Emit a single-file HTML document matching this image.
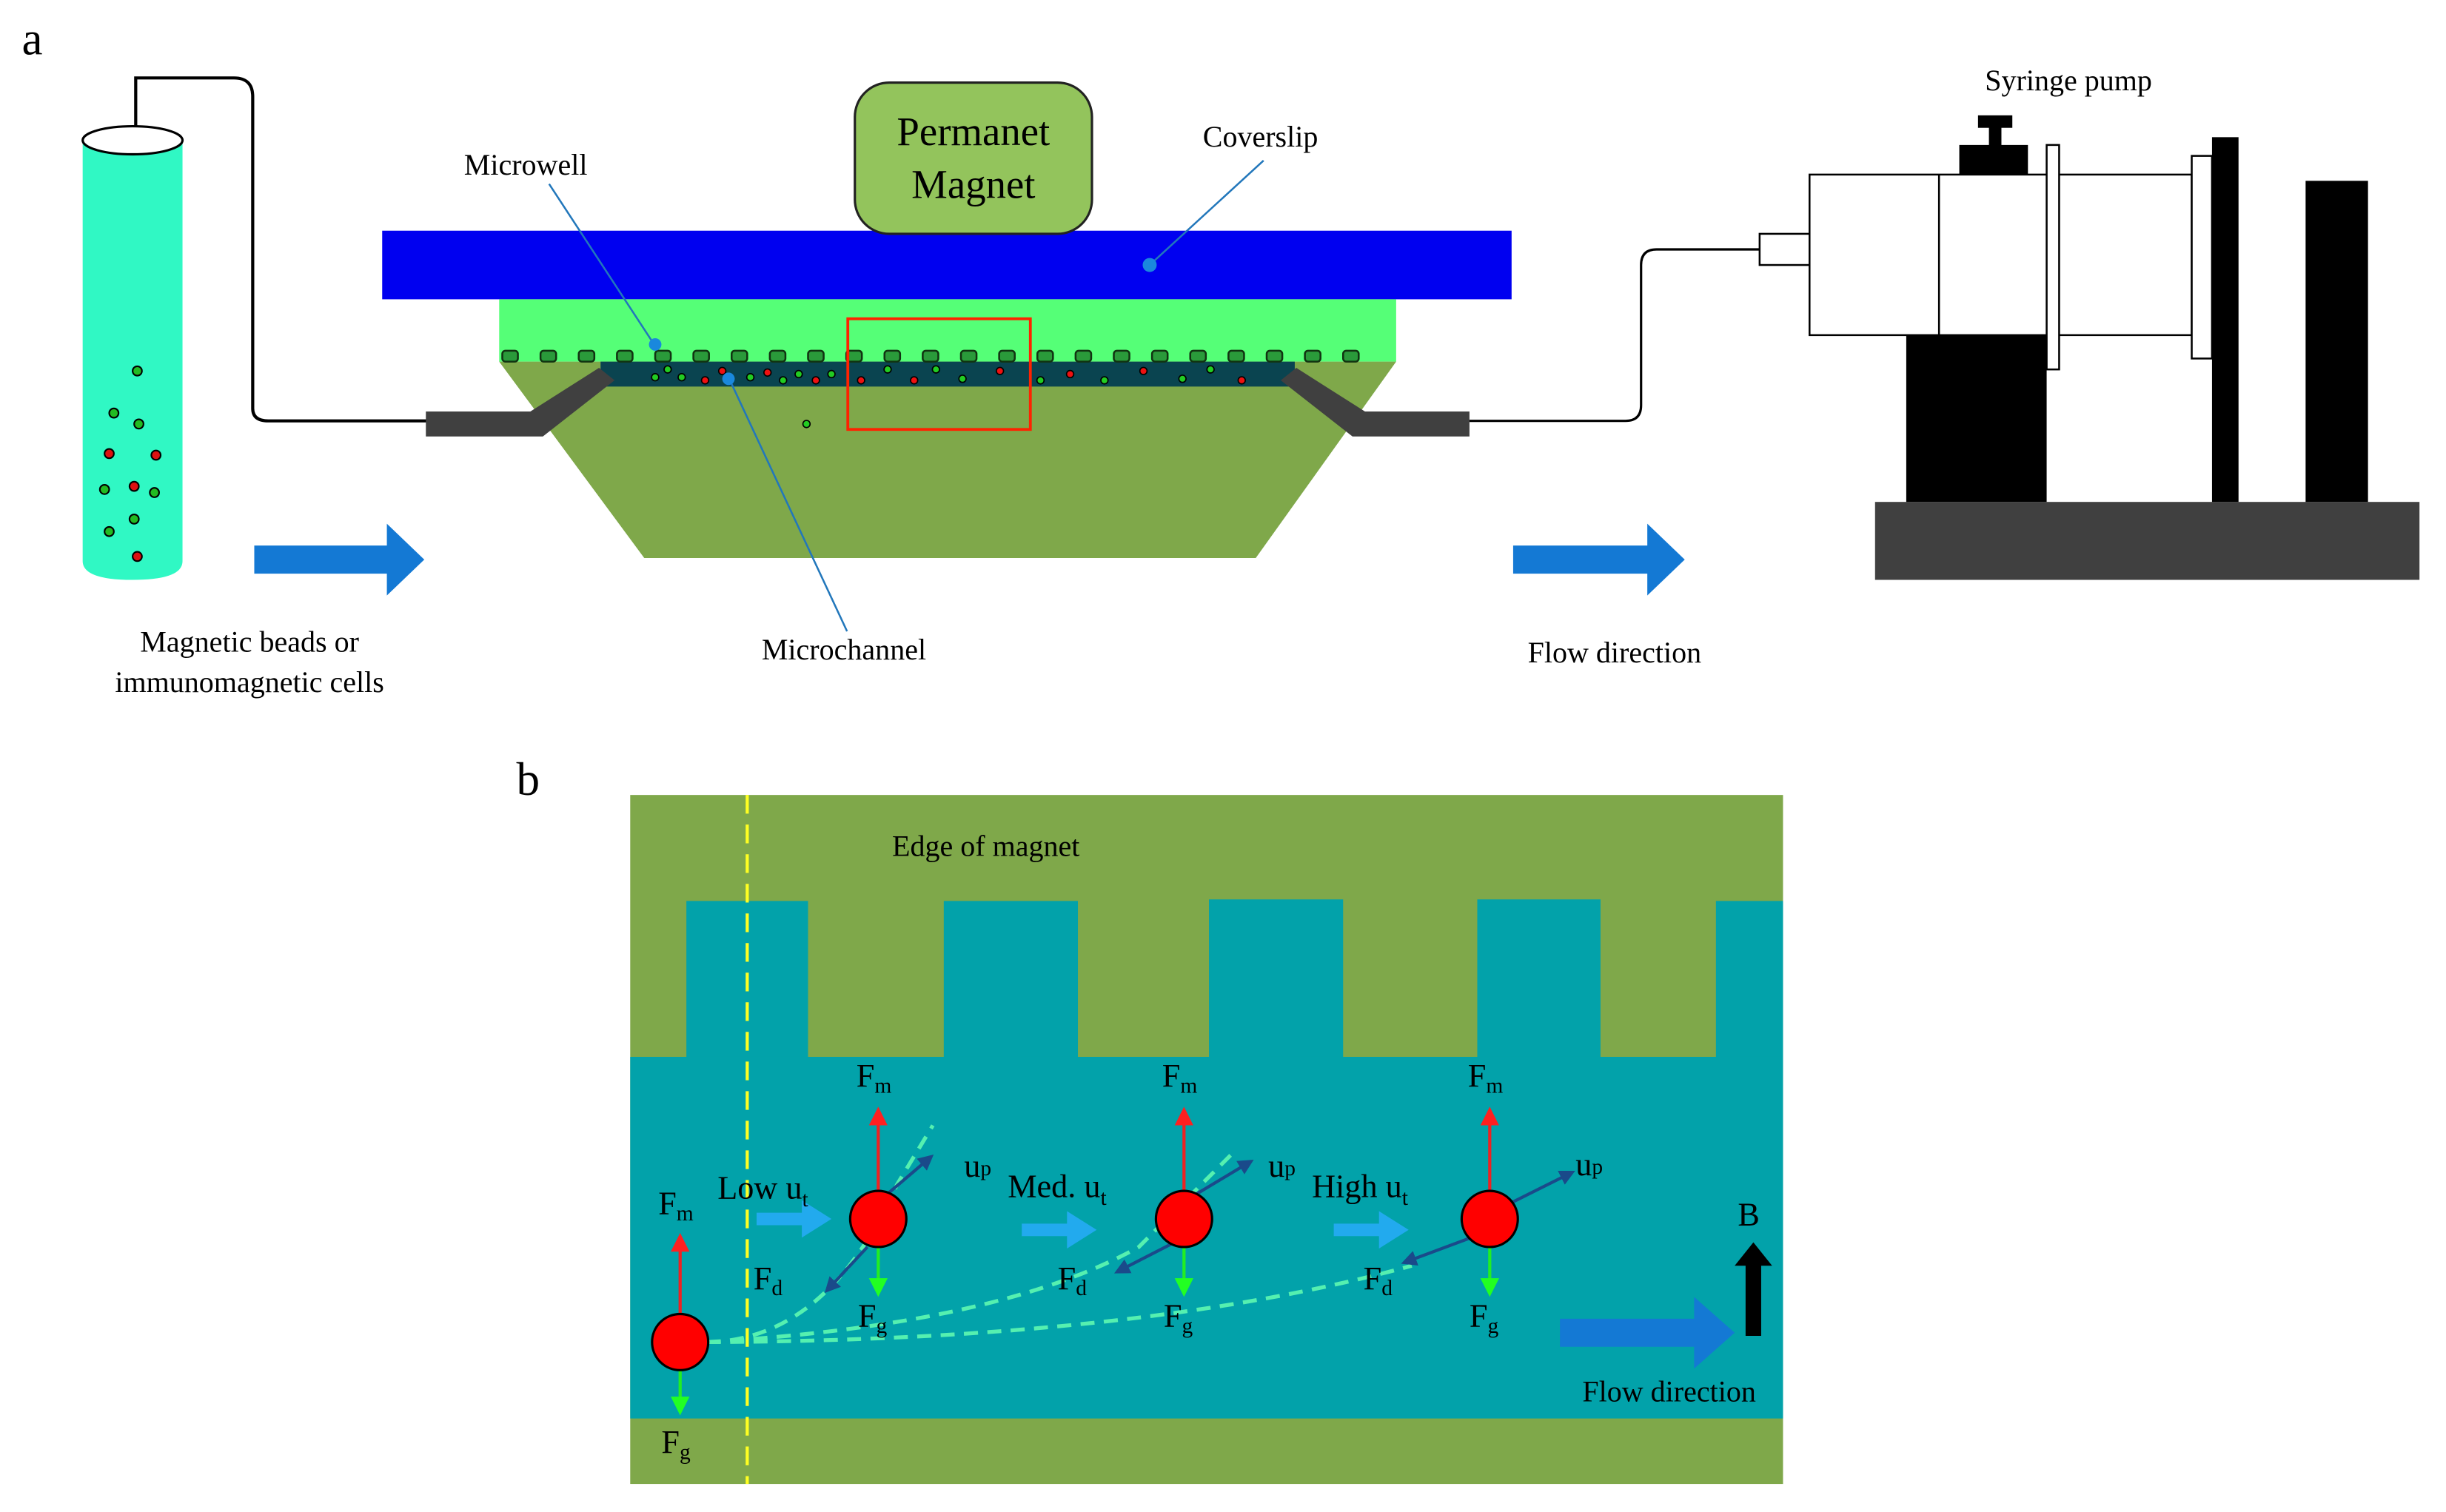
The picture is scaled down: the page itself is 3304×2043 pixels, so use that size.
<!DOCTYPE html>
<html><head><meta charset="utf-8"><style>html,body{margin:0;padding:0;background:#fff}svg{display:block}</style></head><body>
<svg width="3304" height="2043" viewBox="0 0 1568 970" preserveAspectRatio="none" xmlns="http://www.w3.org/2000/svg" font-family="Liberation Serif, serif">
<defs>
<marker id="ar" markerWidth="6" markerHeight="6" refX="5" refY="3" orient="auto" markerUnits="strokeWidth"><path d="M0,0 L6,3 L0,6z" fill="#ff2020"/></marker>
<marker id="ag" markerWidth="6" markerHeight="6" refX="5" refY="3" orient="auto" markerUnits="strokeWidth"><path d="M0,0 L6,3 L0,6z" fill="#22ff22"/></marker>
<marker id="ab" markerWidth="5" markerHeight="5" refX="4" refY="2.5" orient="auto" markerUnits="strokeWidth"><path d="M0,0 L5,2.5 L0,5z" fill="#1a4a8a"/></marker>
</defs>
<rect width="1568" height="970" fill="#fff"/>
<!-- Panel a -->
<text x="14" y="35" font-size="30">a</text>
<!-- tubing left -->
<path d="M87,98 V50 H150 Q162,50 162,62 V262 Q162,270 172,270 H276" fill="none" stroke="#000" stroke-width="2"/>
<!-- tube -->
<path d="M53,90 V360 Q53,372 85,372 Q117,372 117,360 V90 Z" fill="#30f8c4"/>
<ellipse cx="85" cy="90" rx="32" ry="9" fill="#fff" stroke="#000" stroke-width="1.5"/>
<g stroke="#000" stroke-width="1">
<circle cx="88" cy="238" r="3" fill="#22bb22"/><circle cx="73" cy="265" r="3" fill="#22bb22"/><circle cx="89" cy="272" r="3" fill="#22bb22"/>
<circle cx="70" cy="291" r="3" fill="#dd1111"/><circle cx="100" cy="292" r="3" fill="#dd1111"/><circle cx="67" cy="314" r="3" fill="#22bb22"/>
<circle cx="86" cy="312" r="3" fill="#dd1111"/><circle cx="99" cy="316" r="3" fill="#22bb22"/><circle cx="86" cy="333" r="3" fill="#22bb22"/>
<circle cx="70" cy="341" r="3" fill="#22bb22"/><circle cx="88" cy="357" r="3" fill="#dd1111"/>
</g>
<!-- coverslip -->
<rect x="245" y="148" width="724" height="44" fill="#0000f0"/>
<rect x="320" y="192" width="575" height="40" fill="#55ff77"/>
<polygon points="320,232 895,232 805,358 413,358" fill="#7fa84a"/>
<rect x="385" y="232" width="445" height="16" fill="#0a4450"/>
<!-- connectors -->
<polygon points="273,264 340,264 384,236 394,244 348,280 273,280" fill="#404040"/>
<polygon points="942,264 875,264 831,236 821,244 867,280 942,280" fill="#404040"/>
<path d="M942,270 H1042 Q1052,270 1052,260 V170 Q1052,160 1062,160 H1128" fill="none" stroke="#000" stroke-width="1.5"/>
<!-- microwells -->
<g fill="#2a9a3a" stroke="#113311" stroke-width="1.2">
<rect x="322" y="225" width="10" height="7" rx="2"/><rect x="346.5" y="225" width="10" height="7" rx="2"/><rect x="371" y="225" width="10" height="7" rx="2"/><rect x="395.5" y="225" width="10" height="7" rx="2"/><rect x="420" y="225" width="10" height="7" rx="2"/><rect x="444.5" y="225" width="10" height="7" rx="2"/><rect x="469" y="225" width="10" height="7" rx="2"/><rect x="493.5" y="225" width="10" height="7" rx="2"/><rect x="518" y="225" width="10" height="7" rx="2"/><rect x="542.5" y="225" width="10" height="7" rx="2"/><rect x="567" y="225" width="10" height="7" rx="2"/><rect x="591.5" y="225" width="10" height="7" rx="2"/><rect x="616" y="225" width="10" height="7" rx="2"/><rect x="640.5" y="225" width="10" height="7" rx="2"/><rect x="665" y="225" width="10" height="7" rx="2"/><rect x="689.5" y="225" width="10" height="7" rx="2"/><rect x="714" y="225" width="10" height="7" rx="2"/><rect x="738.5" y="225" width="10" height="7" rx="2"/><rect x="763" y="225" width="10" height="7" rx="2"/><rect x="787.5" y="225" width="10" height="7" rx="2"/><rect x="812" y="225" width="10" height="7" rx="2"/><rect x="836.5" y="225" width="10" height="7" rx="2"/><rect x="861" y="225" width="10" height="7" rx="2"/>
</g>
<g stroke="#000" stroke-width="0.8">
<circle cx="420" cy="242" r="2.3" fill="#2c2"/><circle cx="428" cy="237" r="2.3" fill="#2c2"/><circle cx="437" cy="242" r="2.3" fill="#2c2"/><circle cx="452" cy="244" r="2.3" fill="#e11"/><circle cx="463" cy="238" r="2.3" fill="#e11"/><circle cx="481" cy="242" r="2.3" fill="#2c2"/><circle cx="492" cy="239" r="2.3" fill="#e11"/><circle cx="502" cy="244" r="2.3" fill="#2c2"/><circle cx="512" cy="240" r="2.3" fill="#2c2"/><circle cx="523" cy="244" r="2.3" fill="#e11"/><circle cx="533" cy="240" r="2.3" fill="#2c2"/><circle cx="552" cy="244" r="2.3" fill="#e11"/><circle cx="569" cy="237" r="2.3" fill="#2c2"/><circle cx="586" cy="244" r="2.3" fill="#e11"/><circle cx="600" cy="237" r="2.3" fill="#2c2"/><circle cx="617" cy="243" r="2.3" fill="#2c2"/><circle cx="641" cy="238" r="2.3" fill="#e11"/><circle cx="667" cy="244" r="2.3" fill="#2c2"/><circle cx="686" cy="240" r="2.3" fill="#e11"/><circle cx="708" cy="244" r="2.3" fill="#2c2"/><circle cx="733" cy="238" r="2.3" fill="#e11"/><circle cx="758" cy="243" r="2.3" fill="#2c2"/><circle cx="776" cy="237" r="2.3" fill="#2c2"/><circle cx="796" cy="244" r="2.3" fill="#e11"/><circle cx="517" cy="272" r="2.3" fill="#2c2"/>
</g>
<rect x="543.5" y="204.5" width="117" height="71" fill="none" stroke="#ff2200" stroke-width="1.8"/>
<!-- magnet -->
<rect x="548" y="53" width="152" height="97" rx="22" fill="#93c45c" stroke="#222" stroke-width="1.5"/>
<text x="624" y="93" font-size="26" text-anchor="middle">Permanet</text>
<text x="624" y="127" font-size="26" text-anchor="middle">Magnet</text>
<!-- labels & leaders -->
<g stroke="#2277bb" stroke-width="1.2" fill="none"><path d="M352,118 L420,222"/><path d="M810,103 L737,170"/><path d="M543,405 L467,242"/></g>
<g fill="#1a88dd"><circle cx="420" cy="221" r="4"/><circle cx="737" cy="170" r="4.5"/><circle cx="467" cy="243" r="4"/></g>
<g font-size="19" text-anchor="middle">
<text x="337" y="112">Microwell</text><text x="808" y="94">Coverslip</text><text x="541" y="423">Microchannel</text>
<text x="160" y="418">Magnetic beads or</text><text x="160" y="444">immunomagnetic cells</text>
<text x="1035" y="425">Flow direction</text><text x="1326" y="58">Syringe pump</text>
</g>
<!-- big blue arrows -->
<polygon points="163,350 248,350 248,336 272,359 248,382 248,368 163,368" fill="#1479d4"/>
<polygon points="970,350 1056,350 1056,336 1080,359 1056,382 1056,368 970,368" fill="#1479d4"/>
<!-- syringe pump -->
<rect x="1202" y="322" width="349" height="50" fill="#404040"/>
<rect x="1222" y="215" width="90" height="107" fill="#000"/>
<rect x="1418" y="88" width="17" height="234" fill="#000"/>
<rect x="1478" y="116" width="40" height="206" fill="#000"/>
<rect x="1128" y="150" width="32" height="20" fill="#fff" stroke="#000" stroke-width="1.2"/>
<rect x="1160" y="112" width="245" height="103" fill="#fff" stroke="#000" stroke-width="1.2"/>
<line x1="1243" y1="112" x2="1243" y2="215" stroke="#000" stroke-width="1.2"/>
<rect x="1312" y="93" width="8" height="144" fill="#fff" stroke="#000" stroke-width="1.2"/>
<rect x="1405" y="100" width="13" height="130" fill="#fff" stroke="#000" stroke-width="1.2"/>
<rect x="1256" y="93" width="44" height="19" fill="#000"/>
<rect x="1268" y="74" width="22" height="8" fill="#000"/><rect x="1275" y="80" width="8" height="14" fill="#000"/>
<!-- Panel b -->
<text x="331" y="510" font-size="30">b</text>
<rect x="404" y="510" width="739" height="442" fill="#7fa84a"/>
<g fill="#02a2aa">
<rect x="404" y="678" width="739" height="232"/>
<rect x="440" y="578" width="78" height="100"/><rect x="605" y="578" width="86" height="100"/><rect x="775" y="577" width="86" height="101"/><rect x="947" y="577" width="79" height="101"/><rect x="1100" y="578" width="43" height="100"/>
</g>
<text x="632" y="549" font-size="19" text-anchor="middle">Edge of magnet</text>
<line x1="479" y1="510" x2="479" y2="952" stroke="#ffff22" stroke-width="2" stroke-dasharray="12,7"/>
<!-- trajectories -->
<g fill="none" stroke="#55f0b0" stroke-width="2.5" stroke-dasharray="9,6">
<path d="M453,861 Q530,860 575,760 L598,722"/>
<path d="M453,861 Q640,850 730,800 L790,740"/>
<path d="M453,861 Q730,860 905,812"/>
</g>
<!-- light blue arrows -->
<g fill="#22aaee">
<polygon points="485,778 514,778 514,770 533,782 514,794 514,786 485,786"/>
<polygon points="655,785 684,785 684,777 703,789 684,801 684,793 655,793"/>
<polygon points="855,785 884,785 884,777 903,789 884,801 884,793 855,793"/>
</g>
<!-- forces -->
<g stroke-width="2">
<line x1="436" y1="843" x2="436" y2="793" stroke="#ee2222" marker-end="url(#ar)"/>
<line x1="436" y1="879" x2="436" y2="906" stroke="#22ee22" marker-end="url(#ag)"/>
<line x1="563" y1="764" x2="563" y2="712" stroke="#ee2222" marker-end="url(#ar)"/>
<line x1="563" y1="800" x2="563" y2="830" stroke="#22ee22" marker-end="url(#ag)"/>
<line x1="759" y1="764" x2="759" y2="712" stroke="#ee2222" marker-end="url(#ar)"/>
<line x1="759" y1="800" x2="759" y2="830" stroke="#22ee22" marker-end="url(#ag)"/>
<line x1="955" y1="764" x2="955" y2="712" stroke="#ee2222" marker-end="url(#ar)"/>
<line x1="955" y1="800" x2="955" y2="830" stroke="#22ee22" marker-end="url(#ag)"/>
<line x1="570" y1="765" x2="597" y2="742" stroke="#1a4a8a" marker-end="url(#ab)"/>
<line x1="556" y1="800" x2="530" y2="828" stroke="#1a4a8a" marker-end="url(#ab)"/>
<line x1="767" y1="766" x2="802" y2="745" stroke="#1a4a8a" marker-end="url(#ab)"/>
<line x1="751" y1="798" x2="716" y2="816" stroke="#1a4a8a" marker-end="url(#ab)"/>
<line x1="968" y1="772" x2="1008" y2="752" stroke="#1a4a8a" marker-end="url(#ab)"/>
<line x1="943" y1="794" x2="900" y2="810" stroke="#1a4a8a" marker-end="url(#ab)"/>
</g>
<g fill="#ff0000" stroke="#000" stroke-width="1.5">
<circle cx="436" cy="861" r="18"/><circle cx="563" cy="782" r="18"/><circle cx="759" cy="782" r="18"/><circle cx="955" cy="782" r="18"/>
</g>
<!-- labels -->
<g font-size="21">
<text x="422" y="779">F<tspan font-size="14" dy="4">m</tspan></text>
<text x="424" y="932">F<tspan font-size="14" dy="4">g</tspan></text>
<text x="549" y="697">F<tspan font-size="14" dy="4">m</tspan></text>
<text x="550" y="851">F<tspan font-size="14" dy="4">g</tspan></text>
<text x="483" y="827">F<tspan font-size="14" dy="4">d</tspan></text>
<text x="745" y="697">F<tspan font-size="14" dy="4">m</tspan></text>
<text x="746" y="851">F<tspan font-size="14" dy="4">g</tspan></text>
<text x="678" y="827">F<tspan font-size="14" dy="4">d</tspan></text>
<text x="941" y="697">F<tspan font-size="14" dy="4">m</tspan></text>
<text x="942" y="851">F<tspan font-size="14" dy="4">g</tspan></text>
<text x="874" y="827">F<tspan font-size="14" dy="4">d</tspan></text>
<text x="460" y="769">Low u<tspan font-size="14" dy="5">t</tspan></text>
<text x="618" y="755">u<tspan font-size="14" dy="-1">p</tspan></text>
<text x="646" y="768">Med. u<tspan font-size="14" dy="5">t</tspan></text>
<text x="813" y="755">u<tspan font-size="14" dy="-1">p</tspan></text>
<text x="841" y="768">High u<tspan font-size="14" dy="5">t</tspan></text>
<text x="1010" y="754">u<tspan font-size="14" dy="-1">p</tspan></text>
<text x="1114" y="786">B</text>
</g>
<polygon points="1000,846 1086,846 1086,832 1112,855 1086,878 1086,864 1000,864" fill="#1479d4"/>
<polygon points="1119,857 1119,812 1112,812 1124,797 1136,812 1129,812 1129,857" fill="#000"/>
<text x="1070" y="899" font-size="19" text-anchor="middle">Flow direction</text>
</svg>
</body></html>
